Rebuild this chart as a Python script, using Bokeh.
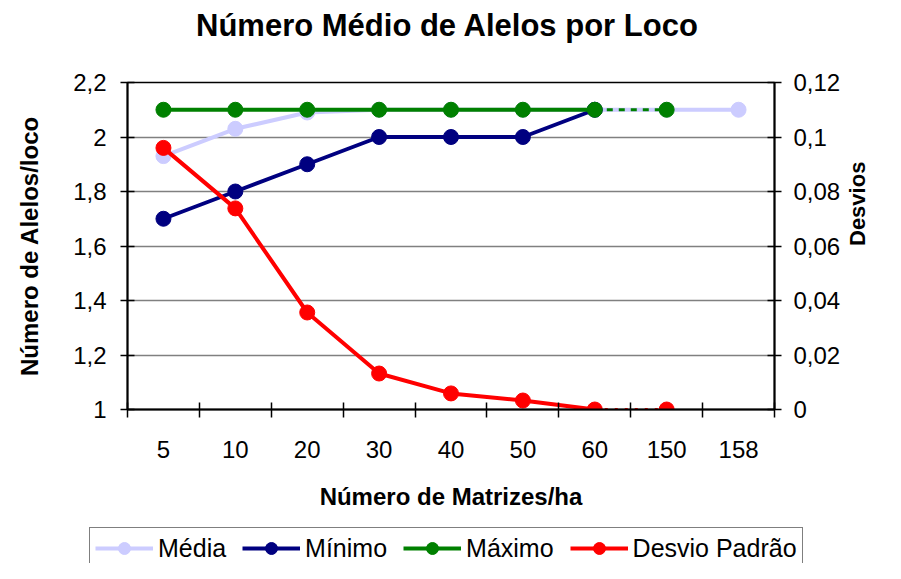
import math
from bokeh.plotting import figure
from bokeh.layouts import column
from bokeh.models import Range1d, LinearAxis, FixedTicker, Legend, LegendItem
from bokeh.embed import file_html
from bokeh.resources import INLINE

nan = float("nan")

# ---- data ----
categories = ["5", "10", "20", "30", "40", "50", "60", "150", "158"]
media = [1.93, 2.03, 2.09, 2.10, 2.10, 2.10, 2.10, 2.10, 2.10]
minimo = [1.70, 1.80, 1.90, 2.00, 2.00, 2.00, 2.10, nan, nan]
maximo = [2.10, 2.10, 2.10, 2.10, 2.10, 2.10, 2.10, 2.10, nan]
desvio = [0.096, 0.0738, 0.0356, 0.0132, 0.0059, 0.0033, 0.0, 0.0, nan]

series_names = ["Média", "Mínimo", "Máximo", "Desvio Padrão"]

left_ticks = [1.0, 1.2, 1.4, 1.6, 1.8, 2.0, 2.2]
left_labels = ["1", "1,2", "1,4", "1,6", "1,8", "2", "2,2"]
right_ticks = [0.0, 0.02, 0.04, 0.06, 0.08, 0.1, 0.12]
right_labels = ["0", "0,02", "0,04", "0,06", "0,08", "0,1", "0,12"]

TITLE = "Número Médio de Alelos por Loco"
BREAK = 6  # segment between "60" and "150" drawn dashed

FONT = "Liberation Sans"
W = 885
H_TITLE = 50
H_MAIN = 475
H_LEG = 38
xs = [i + 0.5 for i in range(len(categories))]

LW = 4
MS = 15
C_MED, C_MIN, C_MAX, C_DES = "#CCCCFF", "#000080", "#008000", "#FF0000"
colors = [C_MED, C_MIN, C_MAX, C_DES]


def solid_part(vals):
    return [v if i <= BREAK else nan for i, v in enumerate(vals)]


def dashed_part(vals):
    return [v if i in (BREAK, BREAK + 1) else nan for i, v in enumerate(vals)]


def strip(height, **kw):
    f = figure(width=W, height=height, x_axis_type=None, y_axis_type=None,
               output_backend="svg", toolbar_location=None, **kw)
    f.outline_line_color = None
    f.xgrid.visible = False
    f.ygrid.visible = False
    f.background_fill_color = "white"
    f.border_fill_color = "white"
    f.frame_align = False
    return f


# ---- title strip ----
pt = strip(H_TITLE, title=TITLE, x_range=Range1d(0, 1), y_range=Range1d(0, 1),
           min_border_left=9, min_border_right=0, min_border_top=0, min_border_bottom=0)
pt.title.align = "center"
pt.title.text_font = FONT
pt.title.text_font_size = "31px"
pt.title.text_font_style = "bold"
pt.title.text_color = "black"
pt.title.standoff = 10

# ---- main chart ----
p = figure(width=W, height=H_MAIN, title=None,
           x_range=Range1d(0, len(categories)), y_range=Range1d(1.0, 2.2),
           output_backend="svg", toolbar_location=None,
           min_border_left=127, min_border_right=106,
           min_border_top=32, min_border_bottom=116)
p.frame_align = False
p.extra_y_ranges = {"d": Range1d(0.0, 0.12)}

p.background_fill_color = "white"
p.border_fill_color = "white"
p.outline_line_color = "black"
p.outline_line_width = 1.5

# grid
p.xgrid.visible = False
p.ygrid.ticker = FixedTicker(ticks=left_ticks)
p.ygrid.grid_line_color = "#808080"
p.ygrid.grid_line_width = 1.5


def style_axis(ax, label_size="24px"):
    ax.axis_line_width = 2
    ax.axis_line_color = "black"
    ax.major_tick_line_color = "black"
    ax.major_label_text_font = FONT
    ax.major_label_text_font_size = "24px"
    ax.major_label_text_color = "black"
    ax.axis_label_text_font = FONT
    ax.axis_label_text_font_size = label_size
    ax.axis_label_text_font_style = "bold"
    ax.axis_label_text_color = "black"


# x axis
xa = p.xaxis[0]
style_axis(xa)
xa.ticker = FixedTicker(ticks=xs, minor_ticks=list(range(len(categories) + 1)))
xa.major_label_overrides = {x: c for x, c in zip(xs, categories)}
xa.major_tick_in = 0
xa.major_tick_out = 0
xa.minor_tick_in = 7
xa.minor_tick_out = 8
xa.minor_tick_line_color = "black"
xa.minor_tick_line_width = 1.5
xa.major_label_standoff = 23
xa.axis_label = "Número de Matrizes/ha"
xa.axis_label_standoff = 22

# left axis
ya = p.yaxis[0]
style_axis(ya)
ya.ticker = FixedTicker(ticks=left_ticks, minor_ticks=[])
ya.major_label_overrides = {t: l for t, l in zip(left_ticks, left_labels)}
ya.major_tick_in = 7
ya.major_tick_out = 7
ya.major_tick_line_width = 1.5
ya.major_label_standoff = 14
ya.axis_label = "Número de Alelos/loco"
ya.axis_label_standoff = 27

# right axis
ra = LinearAxis(y_range_name="d", ticker=FixedTicker(ticks=right_ticks, minor_ticks=[]))
style_axis(ra, label_size="22px")
ra.major_label_overrides = {t: l for t, l in zip(right_ticks, right_labels)}
ra.major_tick_in = 7
ra.major_tick_out = 7
ra.major_tick_line_width = 1.5
ra.major_label_standoff = 12
ra.axis_label = "Desvios"
ra.axis_label_standoff = 14
ra.axis_label_orientation = math.pi / 2
p.add_layout(ra, "right")

# Média
p.line(xs, media, line_color=C_MED, line_width=LW)
p.scatter(xs, media, size=MS, fill_color=C_MED, line_color=C_MED)
# Mínimo
p.line(xs, minimo, line_color=C_MIN, line_width=LW)
p.scatter(xs, minimo, size=MS, fill_color=C_MIN, line_color=C_MIN)
# Máximo
p.line(xs, solid_part(maximo), line_color=C_MAX, line_width=LW)
p.line(xs, dashed_part(maximo), line_color=C_MAX, line_width=3, line_dash="6 6")
p.scatter(xs, maximo, size=MS, fill_color=C_MAX, line_color=C_MAX)
# Desvio Padrão (right axis)
p.line(xs, solid_part(desvio), line_color=C_DES, line_width=LW, y_range_name="d")
p.line(xs, dashed_part(desvio), line_color=C_DES, line_width=3, line_dash="3 7", y_range_name="d")
p.scatter(xs, desvio, size=MS, fill_color=C_DES, line_color=C_DES, y_range_name="d")

# ---- legend strip (series drawn outside its view; only the legend shows) ----
pl = strip(H_LEG, title=None, x_range=Range1d(-2, -1), y_range=Range1d(0, 1),
           min_border=0)
items = []
for name, col, vals in zip(series_names, colors, [media, minimo, maximo, desvio]):
    lr = pl.line(xs, vals, line_color=col, line_width=LW)
    sr = pl.scatter(xs, vals, size=MS, fill_color=col, line_color=col)
    items.append(LegendItem(label=name, renderers=[lr, sr]))

legend = Legend(items=items, orientation="horizontal", location=(89, -6))
legend.border_line_color = "black"
legend.border_line_width = 1
legend.background_fill_color = "white"
legend.background_fill_alpha = 1.0
legend.label_text_font = FONT
legend.label_text_font_size = "25px"
legend.label_text_color = "black"
legend.glyph_width = 58
legend.glyph_height = 30
legend.label_standoff = 5
legend.spacing = 16
legend.padding = 5
legend.margin = 0
pl.add_layout(legend, "center")

layout = column(pt, p, pl, spacing=0)
open("out.html", "w").write(file_html(layout, INLINE))
